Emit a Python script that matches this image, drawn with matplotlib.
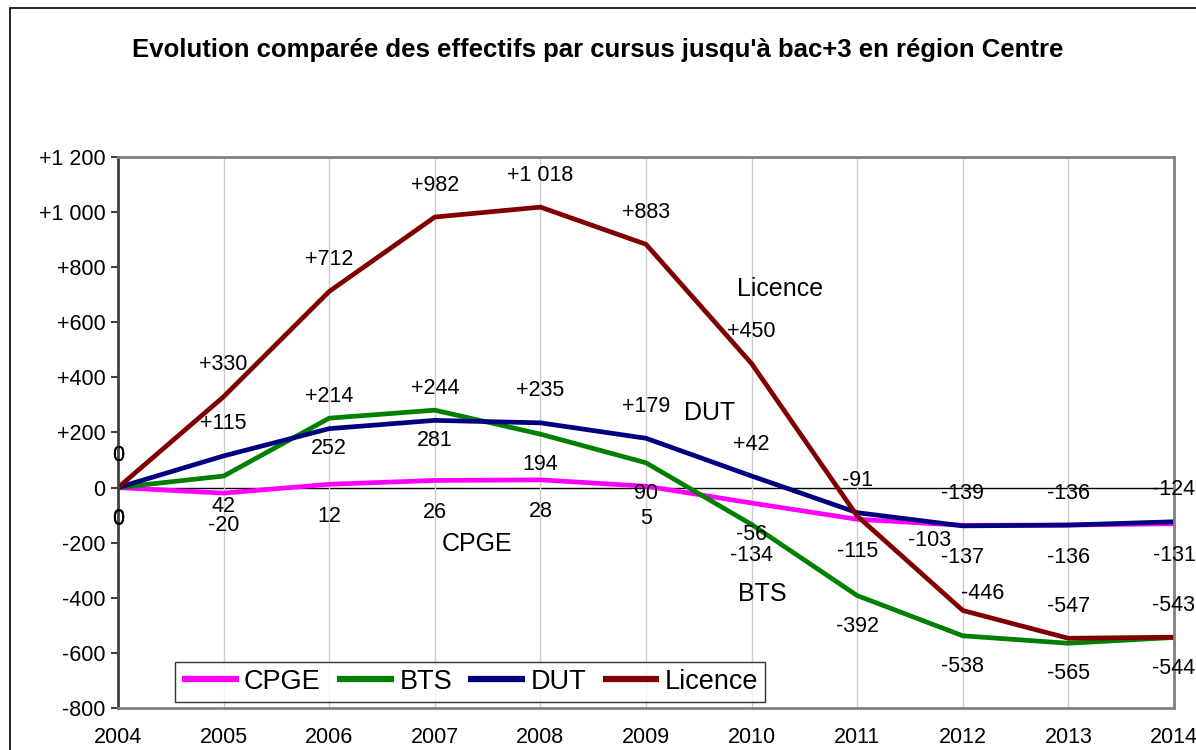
import matplotlib.pyplot as plt
from matplotlib.patches import Rectangle

plt.rcParams['font.family'] = ['Liberation Sans', 'DejaVu Sans']

years = list(range(2004, 2015))
cpge = [0, -20, 12, 26, 28, 5, -56, -115, -137, -136, -131]
bts = [0, 42, 252, 281, 194, 90, -134, -392, -538, -565, -544]
dut = [0, 115, 214, 244, 235, 179, 42, -91, -139, -136, -124]
licence = [0, 330, 712, 982, 1018, 883, 450, -103, -446, -547, -543]

yticks = [-800, -600, -400, -200, 0, 200, 400, 600, 800, 1000, 1200]


def fmt_tick(v):
    s = f"{abs(v):,}".replace(",", " ")
    if v > 0:
        return "+" + s
    if v < 0:
        return "-" + s
    return "0"


fig = plt.figure(figsize=(11.96, 7.5), dpi=100)
ax = fig.add_axes([0.0987, 0.056, 0.8829, 0.7347])

# cadre noir autour du graphique
fig.patches.append(Rectangle((10 / 1196, -0.1), 1.2, 1 - 8 / 750 + 0.1,
                             transform=fig.transFigure, fill=False,
                             edgecolor='black', linewidth=1.2, zorder=0))

series = [("CPGE", cpge, '#FF00FF'), ("BTS", bts, '#008000'),
          ("DUT", dut, '#000080'), ("Licence", licence, '#800000')]
for name, vals, col in series:
    ax.plot(years, vals, color=col, lw=3.4, label=name, solid_capstyle='butt')

ax.axhline(0, color='black', lw=1, zorder=1)
ax.set_xlim(2004, 2014)
ax.set_ylim(-800, 1200)
ax.set_xticks(years)
ax.set_yticks(yticks)
ax.set_yticklabels([fmt_tick(v) for v in yticks])
ax.tick_params(axis='both', labelsize=15.5)
ax.tick_params(axis='x', length=0, pad=14)
ax.tick_params(axis='y', length=5, width=1.5, color='#404040', pad=4)
ax.grid(axis='x', color='#cccccc', lw=1)
for s in ['top', 'right', 'bottom']:
    ax.spines[s].set_color('#808080')
    ax.spines[s].set_linewidth(2)
ax.spines['left'].set_color('#404040')
ax.spines['left'].set_linewidth(2)

# étiquettes de données
for i, y in enumerate(years):
    ax.annotate(str(cpge[i]), (y, cpge[i]),
                xytext=(0, -23), textcoords='offset points', ha='center', va='center', fontsize=15.5)
    ax.annotate(str(bts[i]), (y, bts[i]),
                xytext=(0, -22), textcoords='offset points', ha='center', va='center', fontsize=15.5)
    ax.annotate(fmt_tick(dut[i]), (y, dut[i]),
                xytext=(0, 23), textcoords='offset points', ha='center', va='center', fontsize=15.5)
    off = (0, 23)
    if y == 2011:
        off = (52, -18)
    elif y == 2012:
        off = (14, 12)
    ax.annotate(fmt_tick(licence[i]), (y, licence[i]),
                xytext=off, textcoords='offset points', ha='center', va='center', fontsize=15.5)

# noms des séries
ax.text(2010.27, 719, "Licence", fontsize=18, ha='center', va='center')
ax.text(2009.6, 272, "DUT", fontsize=18, ha='center', va='center')
ax.text(2007.4, -203, "CPGE", fontsize=18, ha='center', va='center')
ax.text(2010.1, -388, "BTS", fontsize=18, ha='center', va='center')

leg = ax.legend(loc='center', bbox_to_anchor=(0.393, 0.0907), bbox_transform=fig.transFigure,
                ncol=4, fontsize=19.5, frameon=True, fancybox=False, handlelength=2.1,
                handletextpad=0.2, columnspacing=0.6, borderpad=0.25, borderaxespad=0)
leg.get_frame().set_edgecolor('black')
leg.get_frame().set_linewidth(1)
for ln in leg.get_lines():
    ln.set_linewidth(4.5)

fig.text(0.5, 1 - 50 / 750, "Evolution comparée des effectifs par cursus jusqu'à bac+3 en région Centre",
         ha='center', va='center', fontsize=18.5, fontweight='bold')

fig.savefig('out.png', dpi=100)
